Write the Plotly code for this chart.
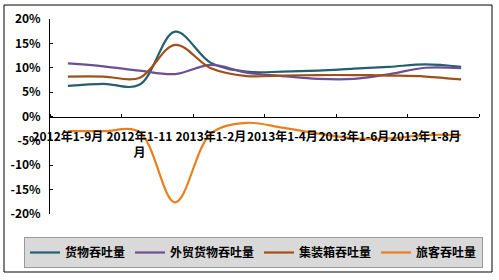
import plotly.graph_objects as go

categories = ["2012年1-9月", "2012年1-10月", "2012年1-11月", "2012年1-12月",
              "2013年1-2月", "2013年1-3月", "2013年1-4月", "2013年1-5月",
              "2013年1-6月", "2013年1-7月", "2013年1-8月", "2013年1-9月"]
cargo = [6.3, 6.7, 6.5, 17.4, 11.0, 9.2, 9.2, 9.4, 9.8, 10.2, 10.7, 10.2]
foreign = [10.9, 10.3, 9.4, 8.7, 10.6, 9.0, 8.3, 7.7, 7.7, 8.7, 10.0, 9.9]
container = [8.2, 8.2, 7.9, 14.7, 9.9, 8.3, 8.4, 8.5, 8.5, 8.4, 8.2, 7.6]
passenger = [-3.0, -3.0, -3.2, -17.6, -3.5, -1.3, -2.3, -3.5, -4.5, -4.5, -3.8, -3.8]

series_names = ["货物吞吐量", "外贸货物吞吐量", "集装箱吞吐量", "旅客吞吐量"]
series_colors = ["#24606e", "#6c4f94", "#a0501a", "#e8801e"]

x_label_idx = [0, 2, 4, 6, 8, 10]
x_label_text = ["2012年1-9月", "2012年1-11<br>月", "2013年1-2月",
                "2013年1-4月", "2013年1-6月", "2013年1-8月"]
y_vals = [-20, -15, -10, -5, 0, 5, 10, 15, 20]
y_text = ["-20%", "-15%", "-10%", "-5%", "0%", "5%", "10%", "15%", "20%"]

font_family = "Noto Sans CJK SC, DejaVu Sans, sans-serif"
xs = list(range(len(categories)))

fig = go.Figure()
for name, vals, col in zip(series_names, [cargo, foreign, container, passenger], series_colors):
    fig.add_trace(go.Scatter(
        x=xs, y=vals, name=name, mode="lines",
        line=dict(color=col, width=2.2, shape="spline", smoothing=1.0),
        customdata=categories,
        hovertemplate="%{customdata}: %{y}%<extra>" + name + "</extra>",
    ))

yd0 = 1 - 214 / 280
yd1 = 1 - 19 / 280

fig.update_layout(
    width=499, height=280,
    margin=dict(l=0, r=0, t=0, b=0, autoexpand=False),
    paper_bgcolor="white", plot_bgcolor="white",
    font=dict(family=font_family, size=12, color="black"),
    showlegend=True,
    legend=dict(
        orientation="h", x=24 / 499, y=1 - 237 / 280, xanchor="left", yanchor="top",
        bgcolor="#d9d9d9", bordercolor="#9a9a9a", borderwidth=1,
        font=dict(family=font_family, size=12, color="black", weight="bold"),
        itemwidth=30, tracegroupgap=0,
    ),
    xaxis=dict(
        domain=[50 / 499, 479 / 499],
        range=[-0.5, len(categories) - 0.5],
        anchor="free", position=(yd0 + yd1) / 2,
        automargin=False,
        showline=True, linecolor="black", linewidth=1,
        showgrid=False, zeroline=False,
        tickmode="array", tickvals=x_label_idx, ticktext=x_label_text,
        ticks="", tickangle=0, ticklabelstandoff=9,
        tickfont=dict(family=font_family, size=12, weight="bold"),
        minor=dict(tickmode="array", tickvals=[i - 0.5 for i in range(0, len(categories) + 1, 2)],
                   ticks="inside", ticklen=3, tickcolor="black", showgrid=False),
        fixedrange=True,
    ),
    yaxis=dict(
        domain=[yd0, yd1],
        range=[-20, 20],
        automargin=False,
        showline=True, linecolor="black", linewidth=1,
        showgrid=False, zeroline=False,
        tickmode="array", tickvals=y_vals, ticktext=y_text,
        ticks="inside", ticklen=3, tickcolor="black",
        ticklabelstandoff=6,
        tickfont=dict(family=font_family, size=12, weight="bold"),
        fixedrange=True,
    ),
    shapes=[dict(type="rect", xref="paper", yref="paper",
                 x0=4 / 499, x1=492 / 499, y0=1 - 272 / 280, y1=1 - 5 / 280,
                 line=dict(color="black", width=1), fillcolor="rgba(0,0,0,0)",
                 layer="below")],
)

fig.write_html("out.html")
